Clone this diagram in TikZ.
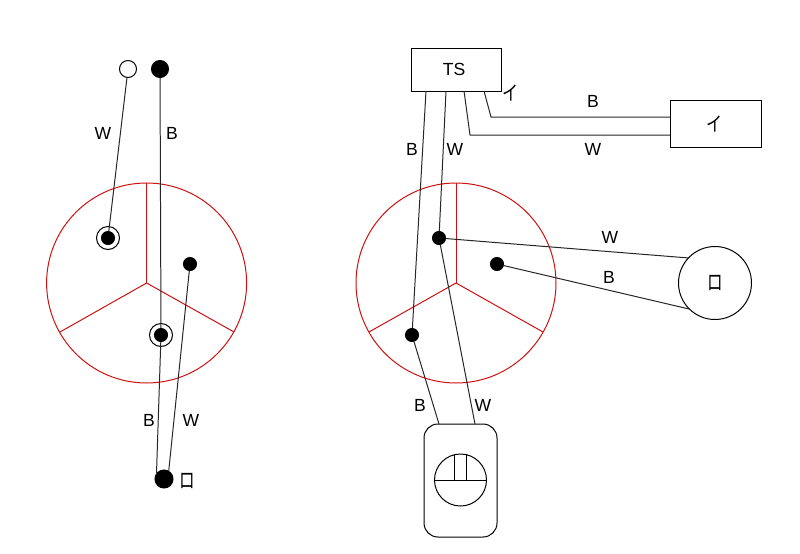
\documentclass[tikz,border=0pt]{standalone}
\usepackage{fontspec}
\setmainfont{Liberation Sans}
\newfontfamily\jpfont{Noto Sans CJK JP}
\definecolor{ocre}{RGB}{204,17,17}
\newcommand{\kanaI}{\scalebox{0.8}[1]{イ}}
\newcommand{\kanaRo}{\scalebox{0.95}[1.35]{ロ}}
\tikzset{
  lbl/.style={inner sep=0pt,font=\fontsize{15}{17}\selectfont},
  kana/.style={inner sep=0pt,font=\fontsize{17}{19}\selectfont\jpfont},
  kanb/.style={inner sep=0pt,font=\fontsize{14}{16}\selectfont\jpfont},
  dot/.style={circle,fill=black,draw=black,inner sep=0pt,minimum size=#1},
  ring/.style={circle,draw,inner sep=0pt,minimum size=#1},
  wire/.style={line width=0.85pt,black!85},
  room/.style={line width=0.85pt,ocre}
}
\begin{document}
\begin{tikzpicture}[x=0.03cm,y=-0.03cm,line width=0.85pt]
\useasboundingbox (0,0) rectangle (800,554);

% left circle
\node[ring=200*0.03cm,draw=ocre] (roomL) at (146.6,283) {};
\coordinate (midL) at (146.6,283);
\draw[room] (roomL.north)--(midL);
\draw[room] (midL)--(60,332);
\draw[room] (midL)--(234,332);

\node[ring=17*0.03cm] (lampopen) at (128,69) {};
\node[dot=17*0.03cm] (lampfull) at (160,69) {};
\node[ring=23*0.03cm] (ringA) at (108,238) {};
\node[dot=13*0.03cm] (dotA) at (108,238) {};
\node[ring=23*0.03cm] (ringB) at (161,335) {};
\node[dot=13*0.03cm] (dotB) at (161,335) {};
\node[dot=13*0.03cm] (dotC) at (190,264) {};
\node[dot=18*0.03cm] (dotD) at (164,479) {};

\draw[wire] (lampopen)--(dotA);
\draw[wire] (lampfull)--(dotB);
\draw[wire] (dotB)--(dotD.142);
\draw[wire] (dotC)--(dotD.60);

\node[lbl] (lblW) at (103,133) {W};
\node[lbl] (lblB) at (172,133) {B};
\node[lbl] (lblBb) at (149,420) {B};
\node[lbl] (lblWb) at (191,420) {W};
\node[kanb] (lblRo) at (187,480.6) {\kanaRo};

% right circle
\node[ring=200*0.03cm,draw=ocre] (roomR) at (456,283) {};
\coordinate (midR) at (456,283);
\draw[room] (roomR.north)--(midR);
\draw[room] (midR)--(369,332);
\draw[room] (midR)--(543,332);

\draw (411,48) rectangle (501,91);
\node[lbl] (ts) at (454,69) {TS};
\draw (670,100) rectangle (761,147);
\node[kana] (boxI) at (714,124) {\kanaI};
\node[ring=73*0.03cm] (lamp) at (715,283) {};
\node[kanb] (lampRo) at (714.8,283.3) {\kanaRo};
\draw[rounded corners=14*0.03cm] (424,424) rectangle (497,537);
\node[ring=52*0.03cm] (sw) at (460.5,480) {};
\draw (sw.west)--(sw.east);
\draw (454.5,455)--(454.5,480);
\draw (466,455)--(466,480);

\node[dot=13*0.03cm] (dotE) at (439,238) {};
\node[dot=13*0.03cm] (dotF) at (497,264) {};
\node[dot=13*0.03cm] (dotG) at (412,335) {};

\draw[wire] (426,91)--(dotG);
\draw[wire] (dotG)--(439,424);
\draw[wire] (446,91)--(dotE);
\draw[wire] (dotE)--(475,424);
\draw[wire] (464,91)--(470,135)--(670,135);
\draw[wire] (484,91)--(491,117)--(670,117);
\draw[wire] (dotE)--(689,258);
\draw[wire] (dotF)--(689,309);

\node[lbl] (lblBc) at (412,149) {B};
\node[lbl] (lblWc) at (455,149) {W};
\node[kana] (lblI) at (510.7,93) {\kanaI};
\node[lbl] (lblBd) at (593,101) {B};
\node[lbl] (lblWd) at (593,149) {W};
\node[lbl] (lblWe) at (610,237) {W};
\node[lbl] (lblBe) at (609,277) {B};
\node[lbl] (lblBf) at (420,405) {B};
\node[lbl] (lblWf) at (483,405) {W};
\end{tikzpicture}
\end{document}
